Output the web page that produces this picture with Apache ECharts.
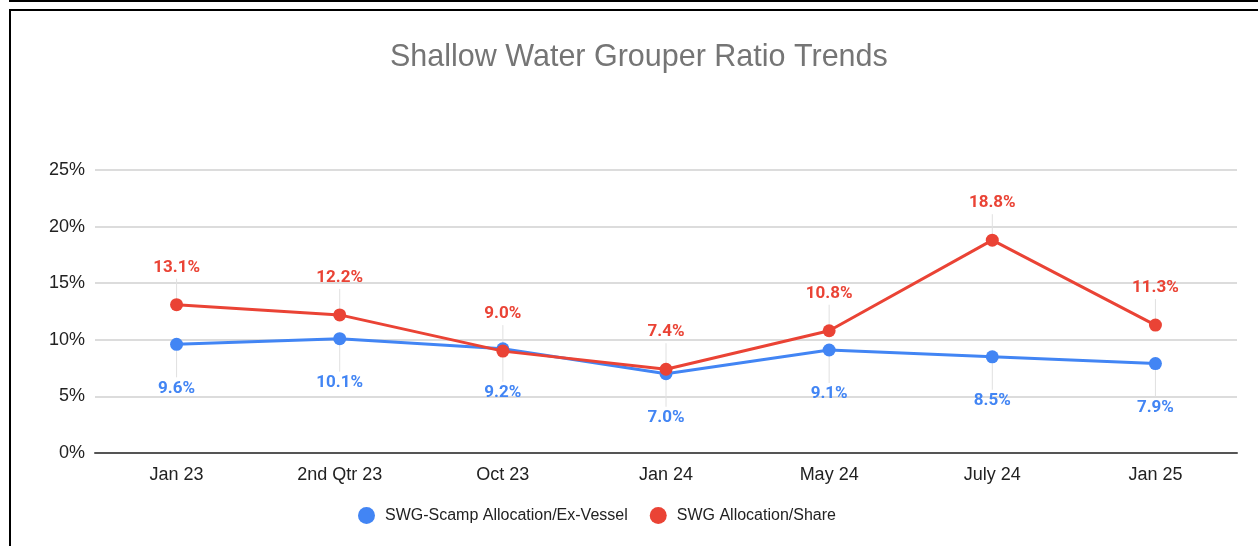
<!DOCTYPE html>
<html>
<head>
<meta charset="utf-8">
<script src="https://cdn.jsdelivr.net/npm/echarts@6/dist/echarts.min.js"></script>
<style>
  html, body { margin: 0; padding: 0; background: #fff; }
  #chart { width: 1258px; height: 546px; }
  .frame1 { position: absolute; left: 9px; top: 0; width: 1249px; height: 0; border-left: 2px solid #000; border-bottom: 2px solid #000; }
  .frame2 { position: absolute; left: 9px; top: 9px; width: 1249px; height: 540px; border-left: 2px solid #000; border-top: 2px solid #000; }
</style>
</head>
<body>
<div class="frame1"></div>
<div class="frame2"></div>
<div id="chart"></div>
<script>
// 类目与数据
const categories = ['Jan 23', '2nd Qtr 23', 'Oct 23', 'Jan 24', 'May 24', 'July 24', 'Jan 25']
const scampExVessel = [9.6, 10.1, 9.2, 7.0, 9.1, 8.5, 7.9]
const allocationShare = [13.1, 12.2, 9.0, 7.4, 10.8, 18.8, 11.3]
const yTicks = [0, 5, 10, 15, 20, 25]

const chartDom = document.getElementById('chart')
const myChart = echarts.init(chartDom)

const labelFont = { fontFamily: 'Roboto', fontWeight: 'bold', fontSize: 17 }
const blueDist = 29
const redDist = 22

// 标签引线（灰色竖线），从数据点指向标签
const leader = (dir, dist) => (params, api) => {
  const pt = api.coord([api.value(0), api.value(1)])
  return {
    type: 'line',
    shape: { x1: pt[0], y1: pt[1] + dir * 6, x2: pt[0], y2: pt[1] + dir * (dist + 4) },
    style: { stroke: '#e0e0e0', lineWidth: 1 }
  }
}

const option = {
  animation: false,
  color: ['#4285F4', '#EA4335'],
  title: {
    text: 'Shallow Water Grouper Ratio Trends',
    left: 385,
    top: 37,
    textStyle: {
      fontFamily: 'Liberation Sans',
      fontWeight: 'normal',
      fontSize: 30.5,
      color: '#757575'
    }
  },
  legend: {
    data: ['SWG-Scamp Allocation/Ex-Vessel', 'SWG Allocation/Share'],
    bottom: 17,
    left: 353,
    icon: 'circle',
    itemWidth: 17,
    itemHeight: 17,
    itemGap: 22,
    textStyle: { fontFamily: 'Liberation Sans', fontSize: 16, color: '#222', padding: [0, 0, 0, 5] }
  },
  grid: {
    left: 95,
    right: 21,
    top: 170,
    bottom: 93
  },
  xAxis: {
    type: 'category',
    data: categories,
    axisTick: { show: false },
    axisLabel: { fontFamily: 'Liberation Sans', fontSize: 18, color: '#222', margin: 13 },
    axisLine: { lineStyle: { color: '#555', width: 2 } }
  },
  yAxis: {
    type: 'value',
    min: yTicks[0],
    max: yTicks[yTicks.length - 1],
    interval: 5,
    axisLabel: {
      fontFamily: 'Liberation Sans', fontSize: 18, color: '#222', margin: 10,
      formatter: (v) => v + '%'
    },
    splitLine: { lineStyle: { color: '#d0d0d0', width: 1.5 } }
  },
  series: [
    {
      type: 'custom',
      silent: true,
      z: 1,
      data: scampExVessel.map((v, i) => [i, v]),
      renderItem: leader(1, blueDist)
    },
    {
      type: 'custom',
      silent: true,
      z: 1,
      data: allocationShare.map((v, i) => [i, v]),
      renderItem: leader(-1, redDist)
    },
    {
      name: 'SWG-Scamp Allocation/Ex-Vessel',
      type: 'line',
      data: scampExVessel,
      symbol: 'circle',
      symbolSize: 13,
      z: 3,
      lineStyle: { width: 3, color: '#4285F4' },
      itemStyle: { color: '#4285F4' },
      label: {
        show: true,
        position: 'bottom',
        distance: blueDist,
        color: '#4285F4',
        ...labelFont,
        formatter: (p) => p.value.toFixed(1) + '%'
      }
    },
    {
      name: 'SWG Allocation/Share',
      type: 'line',
      data: allocationShare,
      symbol: 'circle',
      symbolSize: 13,
      z: 4,
      lineStyle: { width: 3, color: '#EA4335' },
      itemStyle: { color: '#EA4335' },
      label: {
        show: true,
        position: 'top',
        distance: redDist,
        color: '#EA4335',
        ...labelFont,
        formatter: (p) => p.value.toFixed(1) + '%'
      }
    }
  ]
}

myChart.setOption(option)
</script>
</body>
</html>
